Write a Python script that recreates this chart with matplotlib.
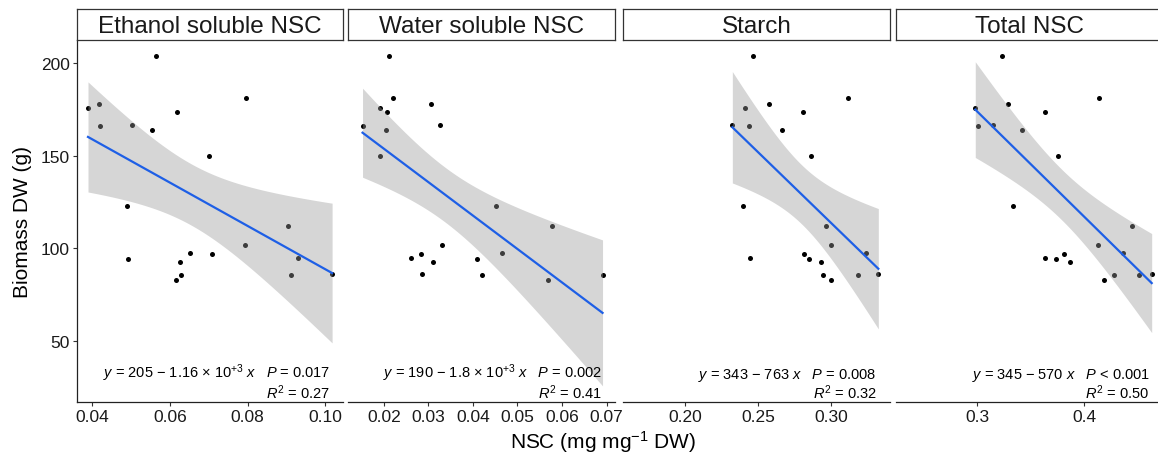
import numpy as np
import matplotlib.pyplot as plt

plt.rcParams['font.family'] = ['Liberation Sans', 'DejaVu Sans']
plt.rcParams['mathtext.fontset'] = 'custom'
plt.rcParams['mathtext.rm'] = 'Liberation Sans'
plt.rcParams['mathtext.it'] = 'Liberation Sans:italic'

# Biomass (g) of each plant, same order in every panel
biomass = [203.8, 181.4, 178.2, 176.0, 173.6, 166.4, 166.3, 164.1, 150.0, 123.1, 112.3,
           101.8, 97.5, 97.0, 94.8, 94.2, 92.4, 85.9, 85.6, 85.4, 82.7]

# NSC concentrations (mg mg-1 DW)
ethanol = [0.0565, 0.0796, 0.0417, 0.0390, 0.0619, 0.0504, 0.0421, 0.0554, 0.0702, 0.0491, 0.0904,
           0.0792, 0.0653, 0.0708, 0.0930, 0.0492, 0.0627, 0.1017, 0.0911, 0.0630, 0.0617]
water = [0.0211, 0.0221, 0.0305, 0.0191, 0.0208, 0.0325, 0.0152, 0.0204, 0.0191, 0.0452, 0.0578,
         0.0330, 0.0466, 0.0283, 0.0260, 0.0408, 0.0311, 0.0286, 0.0421, 0.0691, 0.0568]
starch = [0.2466, 0.3116, 0.2577, 0.2411, 0.2810, 0.2324, 0.2440, 0.2664, 0.2861, 0.2395, 0.2964,
          0.3000, 0.3242, 0.2815, 0.2443, 0.2847, 0.2929, 0.3324, 0.2945, 0.3187, 0.2998]
total = [0.3234, 0.4138, 0.3288, 0.2981, 0.3634, 0.3147, 0.3004, 0.3419, 0.3753, 0.3332, 0.4453,
         0.4128, 0.4366, 0.3810, 0.3634, 0.3741, 0.3872, 0.4634, 0.4284, 0.4513, 0.4185]

titles = ["Ethanol soluble NSC", "Water soluble NSC", "Starch", "Total NSC"]
equations = [r"$y$ = 205 − 1.16 × 10$^{+3}$ $x$   $P$ = 0.017",
             r"$y$ = 190 − 1.8 × 10$^{+3}$ $x$   $P$ = 0.002",
             r"$y$ = 343 − 763 $x$   $P$ = 0.008",
             r"$y$ = 345 − 570 $x$   $P$ < 0.001"]
r2_labels = [r"$R^2$ = 0.27", r"$R^2$ = 0.41", r"$R^2$ = 0.32", r"$R^2$ = 0.50"]
xticks = [[0.04, 0.06, 0.08, 0.10],
          [0.02, 0.03, 0.04, 0.05, 0.06, 0.07],
          [0.20, 0.25, 0.30],
          [0.3, 0.4]]
xticklabels = [["0.04", "0.06", "0.08", "0.10"],
               ["0.02", "0.03", "0.04", "0.05", "0.06", "0.07"],
               ["0.20", "0.25", "0.30"],
               ["0.3", "0.4"]]
xlims = [(0.0361, 0.1046), (0.0120, 0.0719), (0.1577, 0.3404), (0.2241, 0.4740)]
yticks = [50, 100, 150, 200]

# layout in pixels
W, H = 1158, 460
lefts = [76.7, 348.3, 623.3, 896.3]
pw = 266.7
ptop, pbot, stop = 41, 403, 10
t_crit = 2.093  # t(0.975, df = 19)

fig = plt.figure(figsize=(W / 100, H / 100), dpi=100)

for i, xs_data in enumerate([ethanol, water, starch, total]):
    x = np.array(xs_data)
    y = np.array(biomass)
    ax = fig.add_axes([lefts[i] / W, (H - pbot) / H, pw / W, (pbot - ptop) / H])

    ax.scatter(x, y, s=13, c='black', linewidths=0, zorder=2)

    # linear fit with 95% confidence band
    slope, icpt = np.polyfit(x, y, 1)
    n = len(x)
    resid = y - (icpt + slope * x)
    s = np.sqrt(np.sum(resid ** 2) / (n - 2))
    xx = np.linspace(x.min(), x.max(), 100)
    fit = icpt + slope * xx
    se = s * np.sqrt(1 / n + (xx - x.mean()) ** 2 / np.sum((x - x.mean()) ** 2))
    ax.fill_between(xx, fit - t_crit * se, fit + t_crit * se, color='#999999', alpha=0.4,
                    linewidth=0, zorder=3)
    ax.plot(xx, fit, color='#1E5FE6', lw=1.6, zorder=4)

    ax.set_xlim(*xlims[i])
    ax.set_ylim(17, 212.5)
    ax.set_xticks(xticks[i])
    ax.set_xticklabels(xticklabels[i])
    ax.tick_params(direction='out', length=3, width=0.8, color='#333333',
                   labelsize=12.5, labelcolor='#1a1a1a', pad=2)
    for side in ['top', 'right']:
        ax.spines[side].set_visible(False)
    ax.spines['bottom'].set_linewidth(0.9)
    ax.spines['bottom'].set_color('#222222')
    if i == 0:
        ax.set_yticks(yticks)
        ax.spines['left'].set_linewidth(0.9)
        ax.spines['left'].set_color('#222222')
    else:
        ax.spines['left'].set_visible(False)
        ax.tick_params(left=False, labelleft=False)

    xr = 1 - 13.3 / pw
    ax.text(xr, 0.004, equations[i] + "\n" + r2_labels[i], transform=ax.transAxes,
            ha='right', va='bottom', multialignment='right', linespacing=0.92,
            fontsize=10.5, color='black')

    # strip
    sax = fig.add_axes([lefts[i] / W, (H - ptop) / H, pw / W, (ptop - stop) / H])
    sax.set_xticks([])
    sax.set_yticks([])
    for sp in sax.spines.values():
        sp.set_color('#333333')
        sp.set_linewidth(0.9)
    sax.text(0.5, 0.45, titles[i], ha='center', va='center', fontsize=17.5,
             color='#1a1a1a', transform=sax.transAxes)

fig.text(603 / W, (H - 442) / H, "NSC (mg mg$^{-1}$ DW)",
         ha='center', va='center', fontsize=15)
fig.text(23 / W, (H - 222) / H, "Biomass DW (g)", rotation=90,
         ha='center', va='center', fontsize=15)

fig.savefig('out.png', dpi=100)
